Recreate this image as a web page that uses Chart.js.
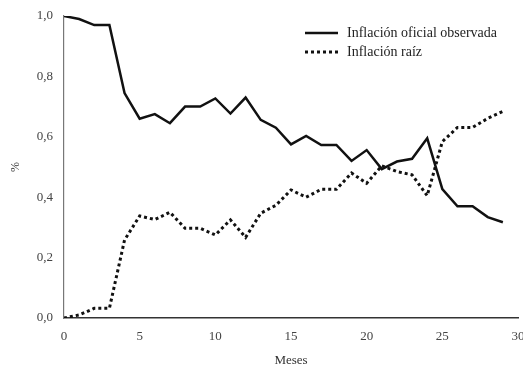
<!DOCTYPE html>
<html>
<head>
<meta charset="utf-8">
<script src="https://cdn.jsdelivr.net/npm/chart.js@4/dist/chart.umd.min.js"></script>
<style>
  html, body { margin: 0; padding: 0; background: #fff; }
  #wrap { width: 523px; height: 368px; }
</style>
</head>
<body>
<div id="wrap"><canvas id="c" width="523" height="368"></canvas></div>
<script>
// months 0..29
const meses = [0,1,2,3,4,5,6,7,8,9,10,11,12,13,14,15,16,17,18,19,20,21,22,23,24,25,26,27,28,29];
const inflacionOficial = [1.0,0.99,0.97,0.97,0.745,0.66,0.675,0.645,0.70,0.70,0.727,0.677,0.73,0.656,0.63,0.575,0.603,0.573,0.573,0.52,0.556,0.493,0.518,0.527,0.595,0.427,0.37,0.37,0.334,0.317];
const inflacionRaiz = [0.0,0.01,0.032,0.032,0.258,0.338,0.326,0.35,0.297,0.297,0.275,0.325,0.267,0.347,0.373,0.424,0.40,0.426,0.426,0.48,0.446,0.504,0.485,0.474,0.405,0.584,0.631,0.631,0.661,0.684];
const seriesNames = ['Inflación oficial observada', 'Inflación raíz'];

const FONT = '"Liberation Serif", "DejaVu Serif", serif';
const toPoints = vals => vals.map((v, i) => ({x: meses[i], y: v}));

// legend drawn top-right, stacked like the original figure
const stackedLegend = {
  id: 'stackedLegend',
  afterDraw(chart) {
    const ctx = chart.ctx;
    ctx.save();
    chart.data.datasets.forEach((ds, i) => {
      const y = 33 + i * 19;
      ctx.beginPath();
      ctx.strokeStyle = ds.borderColor;
      ctx.lineWidth = ds.borderWidth;
      ctx.setLineDash(ds.borderDash || []);
      ctx.moveTo(305, y);
      ctx.lineTo(338, y);
      ctx.stroke();
      ctx.setLineDash([]);
      ctx.fillStyle = '#222';
      ctx.font = '14px ' + FONT;
      ctx.textBaseline = 'middle';
      ctx.fillText(ds.label, 347, y);
    });
    ctx.restore();
  }
};

new Chart(document.getElementById('c').getContext('2d'), {
  type: 'line',
  data: {
    datasets: [{
      label: seriesNames[0],
      data: toPoints(inflacionOficial),
      borderColor: '#111',
      borderWidth: 2.5,
      pointRadius: 0,
      tension: 0
    }, {
      label: seriesNames[1],
      data: toPoints(inflacionRaiz),
      borderColor: '#111',
      borderWidth: 3,
      borderDash: [3, 3],
      pointRadius: 0,
      tension: 0
    }]
  },
  options: {
    responsive: false,
    animation: false,
    layout: { padding: { left: 0, right: 5, top: 16, bottom: 0 } },
    plugins: {
      legend: { display: false },
      tooltip: { enabled: false }
    },
    scales: {
      x: {
        type: 'linear',
        min: 0,
        max: 30,
        grid: { display: false, drawTicks: false },
        border: { display: true, color: '#333', width: 1.5 },
        ticks: {
          stepSize: 5,
          padding: 11,
          color: '#444',
          font: { family: FONT, size: 13 }
        },
        title: {
          display: true,
          text: 'Meses',
          color: '#333',
          font: { family: FONT, size: 13 },
          padding: { top: 8, bottom: 0 }
        },
        afterFit: s => { s.height = 50; s.paddingRight = 0; s.paddingLeft = 0; }
      },
      y: {
        min: 0,
        max: 1,
        grid: { display: false, drawTicks: false },
        border: { display: true, color: '#777', width: 1.2 },
        ticks: {
          stepSize: 0.2,
          padding: 11,
          color: '#444',
          font: { family: FONT, size: 13 },
          callback: v => v.toFixed(1).replace('.', ',')
        },
        title: {
          display: true,
          text: '%',
          color: '#333',
          font: { family: FONT, size: 12 },
          padding: { top: 9, bottom: 0 }
        },
        afterFit: s => { s.width = 64; s.paddingTop = 0; s.paddingBottom = 0; }
      }
    }
  },
  plugins: [stackedLegend]
});
</script>
</body>
</html>
